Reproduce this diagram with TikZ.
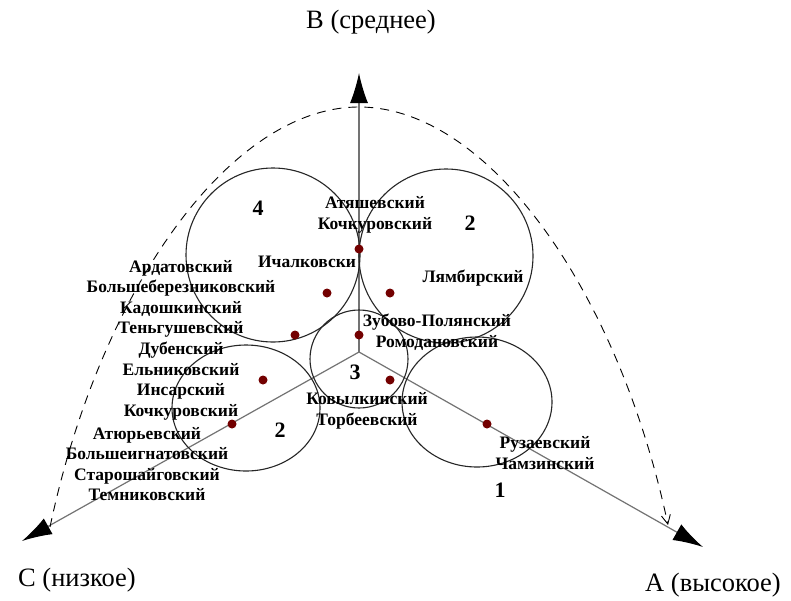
\documentclass[tikz,border=0pt]{standalone}
\usepackage{fontspec}
\setmainfont{Liberation Serif}
\usetikzlibrary{arrows.meta}
\tikzset{
  axisline/.style={draw=black!55, line width=1.2pt, -{Latex[length=30pt,width=18pt,black]}},
  cluster/.style={draw=black!85, line width=1.1pt},
  hull/.style={draw=black, line width=0.9pt, dash pattern=on 9pt off 7pt},
  district/.style={font=\bfseries\fontsize{17.5}{20.6}\selectfont, align=center, inner sep=0pt},
  groupno/.style={font=\bfseries\fontsize{22}{24}\selectfont, inner sep=0pt},
  axislabel/.style={font=\fontsize{26.5}{28}\selectfont, inner sep=0pt},
  pt/.style={fill=red!45!black, draw=none}
}
\begin{document}
\begin{tikzpicture}[x=1pt,y=-1pt]
\useasboundingbox (0,0) rectangle (791,600);
\fill[white] (0,0) rectangle (791,600);

% axes
\coordinate (O) at (359,352);
\coordinate (tipB) at (359,73);
\coordinate (tipC) at (22,541);
\coordinate (tipA) at (703,547);
\draw[axisline] (O) -- (tipB);
\draw[axisline] (O) -- (tipC);
\draw[axisline] (O) -- (tipA);

% dashed envelope
\coordinate (hl) at (50,527);
\coordinate (ht) at (359,107);
\coordinate (hr) at (668,525);
\draw[hull, -{Straight Barb[length=9pt,width=9pt]}]
  (hl) .. controls (100,290) and (230,107) .. (ht)
       .. controls (488,107) and (618,290) .. (hr);

% clusters
\draw[cluster] (273,255) circle[radius=87pt];
\draw[cluster] (446,256) circle[radius=87pt];
\draw[cluster] (359,359) circle[radius=49pt];
\draw[cluster] (477,402) ellipse[x radius=75pt, y radius=65pt];
\draw[cluster] (246,408) ellipse[x radius=74pt, y radius=63pt];

% district points
\foreach \p in {(359,249),(327,293),(390,293),(295,335),(359,335),(263,380),(390,380),(232,424),(487,424)}
  \fill[pt] \p circle[radius=4.5pt];

% group numbers
\node[groupno] (g4) at (258,208) {4};
\node[groupno] (g2a) at (470,223) {2};
\node[groupno] (g3) at (355,372) {3};
\node[groupno] (g2b) at (280,430) {2};
\node[groupno] (g1) at (500,490) {1};

% district names
\node[district] (d1) at (375,215) {Атяшевский\\Кочкуровский};
\node[district] (d2) at (307,262) {Ичалковски};
\node[district] (d3) at (473,278) {Лямбирский};
\node[district] (d4) at (437,332) {Зубово-Полянский\\Ромодановский};
\node[district] (d5) at (367,411) {Ковылкинский\\Торбеевский};
\node[district] (d6) at (545,453) {Рузаевский\\Чамзинский};
\node[district] (d7) at (181,340) {Ардатовский\\Большеберезниковский\\Кадошкинский\\Теньгушевский\\Дубенский\\Ельниковский\\Инсарский\\Кочкуровский};
\node[district] (d8) at (147,464) {Атюрьевский\\Большеигнатовский\\Старошайговский\\Темниковский};

% axis labels
\node[axislabel] (lb) at (371,22) {В (среднее)};
\node[axislabel] (lc) at (77,580) {С (низкое)};
\node[axislabel] (la) at (713,585) {А (высокое)};
\end{tikzpicture}
\end{document}
